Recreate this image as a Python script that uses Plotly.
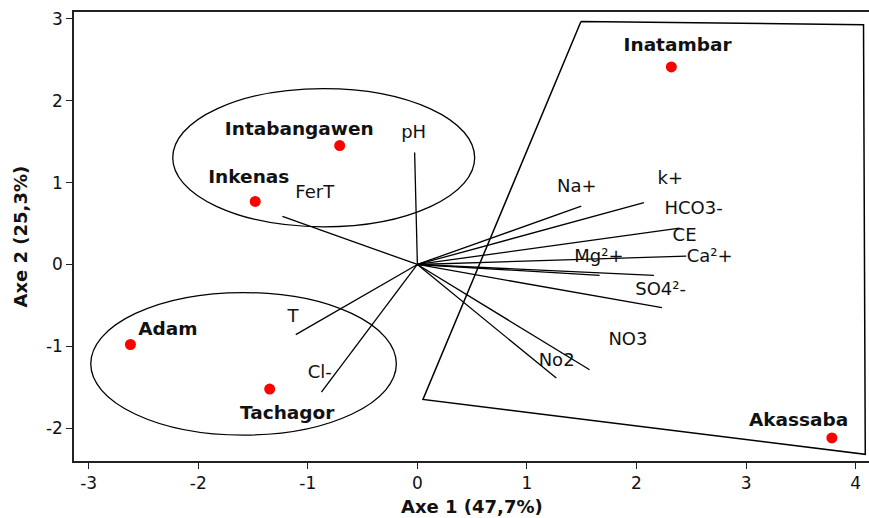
import plotly.graph_objects as go

# ---------------- data ----------------
sites = ["Inatambar", "Intabangawen", "Inkenas", "Adam", "Tachagor", "Akassaba"]
site_x = [2.318, -0.709, -1.48, -2.619, -1.348, 3.783]
site_y = [2.412, 1.451, 0.770, -0.977, -1.521, -2.117]
site_label_x = [2.375, -1.078, -1.539, -2.278, -1.188, 3.479]
site_label_y = [2.668, 1.642, 1.050, -0.808, -1.825, -1.915]

variables = ["pH", "FerT", "Na+", "k+", "HCO3-", "Ca²+", "Mg²+", "CE", "SO4²-", "NO3", "No2", "T", "Cl-"]
var_x = [-0.025, -1.232, 1.496, 2.068, 2.393, 2.454, 1.663, 2.159, 2.232, 1.572, 1.268, -1.110, -0.876]
var_y = [1.366, 0.587, 0.713, 0.754, 0.445, 0.101, -0.134, -0.134, -0.528, -1.286, -1.387, -0.856, -1.557]
var_label_x = [-0.034, -0.937, 1.455, 2.308, 2.521, 2.667, 1.657, 2.439, 2.220, 1.922, 1.271, -1.135, -0.891]
var_label_y = [1.597, 0.868, 0.940, 1.040, 0.673, 0.085, 0.089, 0.337, -0.313, -0.933, -1.188, -0.642, -1.325]

# groups: ellipses (x0, x1, y0, y1) and hull polygon
ellipse_x0 = [-2.233, -2.981]
ellipse_x1 = [0.523, -0.192]
ellipse_y0 = [0.46, -2.083]
ellipse_y1 = [2.147, -0.343]
hull_x = [1.493, 4.072, 4.088, 0.051]
hull_y = [2.966, 2.926, -2.318, -1.648]

x_ticks = [-3, -2, -1, 0, 1, 2, 3, 4]
x_tick_text = ["-3", "-2", "-1", "0", "1", "2", "3", "4"]
y_ticks = [-2, -1, 0, 1, 2, 3]
y_tick_text = ["-2", "-1", "0", "1", "2", "3"]

FONT = "DejaVu Sans"

fig = go.Figure()

# hull polygon
fig.add_trace(go.Scatter(
    x=hull_x + [hull_x[0]], y=hull_y + [hull_y[0]], mode="lines",
    line=dict(color="black", width=1.5), hoverinfo="skip", showlegend=False))

# variable vectors
vx, vy = [], []
for x, y in zip(var_x, var_y):
    vx += [0, x, None]
    vy += [0, y, None]
fig.add_trace(go.Scatter(x=vx, y=vy, mode="lines",
                         line=dict(color="black", width=1.3),
                         hoverinfo="skip", showlegend=False))

fig.add_trace(go.Scatter(x=var_label_x, y=var_label_y, mode="text", text=variables,
                         textposition="middle center",
                         textfont=dict(family=FONT, size=18, color="#111"),
                         hoverinfo="skip", showlegend=False))

# sites
fig.add_trace(go.Scatter(x=site_x, y=site_y, mode="markers",
                         marker=dict(color="#ff0000", size=11),
                         hoverinfo="skip", showlegend=False))
fig.add_trace(go.Scatter(x=site_label_x, y=site_label_y, mode="text", text=sites,
                         textposition="middle center",
                         texttemplate="<b>%{text}</b>",
                         textfont=dict(family=FONT, size=18.5, color="#111"),
                         hoverinfo="skip", showlegend=False))

# ellipses
for x0, x1, y0, y1 in zip(ellipse_x0, ellipse_x1, ellipse_y0, ellipse_y1):
    fig.add_shape(type="circle", xref="x", yref="y", x0=x0, x1=x1, y0=y0, y1=y1,
                  line=dict(color="black", width=1.3), layer="above")

axis_common = dict(showgrid=False, zeroline=False, showline=True, linecolor="#222",
                   linewidth=1.5, ticks="outside", ticklen=6, tickwidth=1.2,
                   tickcolor="#222", tickfont=dict(family=FONT, size=17, color="#111"))

fig.update_layout(
    width=869, height=518,
    margin=dict(l=74, r=0, t=12, b=57),
    plot_bgcolor="white", paper_bgcolor="white",
    hovermode=False,
    xaxis=dict(range=[-3.134, 4.122], tickvals=x_ticks, ticktext=x_tick_text,
               mirror=True, **axis_common),
    yaxis=dict(range=[-2.399, 3.082], tickvals=y_ticks, ticktext=y_tick_text,
               **axis_common),
    annotations=[
        dict(text="<b>Axe 1 (47,7%)</b>", xref="paper", yref="paper", x=0.5, y=0,
             xanchor="center", yanchor="middle", yshift=-45, showarrow=False,
             font=dict(family=FONT, size=18, color="#111")),
        dict(text="<b>Axe 2 (25,3%)</b>", xref="paper", yref="paper", x=0, y=0.5,
             xanchor="center", yanchor="middle", xshift=-54, textangle=-90,
             showarrow=False, font=dict(family=FONT, size=18, color="#111")),
    ],
)

fig.write_html(
    "out.html",
    config={"displayModeBar": False},
    post_script="document.body.style.margin='0';document.body.style.overflow='hidden';",
)
